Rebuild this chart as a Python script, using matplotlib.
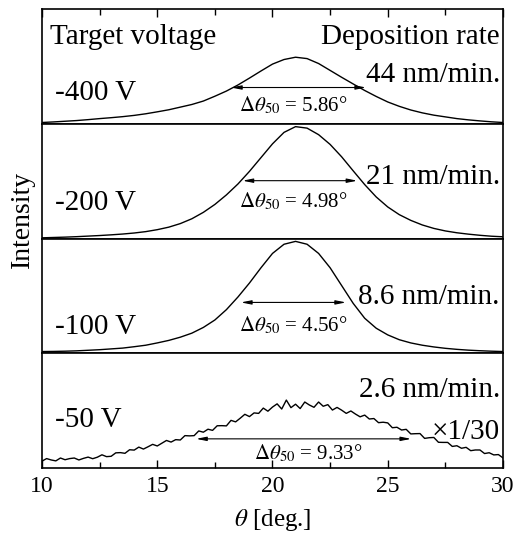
import numpy as np
import matplotlib.pyplot as plt
from matplotlib.ticker import MultipleLocator

plt.rcParams['font.family'] = 'Liberation Serif'
plt.rcParams['mathtext.fontset'] = 'stix'

# rocking curves, normalised so each panel runs 0..1
theta = np.arange(10, 30.01, 0.5)
theta_fine = np.linspace(10, 30, 101)

i_400 = [0.011, 0.016, 0.022, 0.028, 0.036, 0.045, 0.053, 0.062, 0.073, 0.087,
         0.104, 0.122, 0.145, 0.168, 0.198, 0.240, 0.285, 0.338, 0.398, 0.460,
         0.520, 0.560, 0.580, 0.568, 0.525, 0.465, 0.405, 0.347, 0.290, 0.238,
         0.190, 0.152, 0.120, 0.095, 0.075, 0.060, 0.045, 0.034, 0.025, 0.017,
         0.011]

i_200 = [0.006, 0.009, 0.012, 0.016, 0.021, 0.026, 0.032, 0.039, 0.048, 0.060,
         0.077, 0.099, 0.130, 0.172, 0.228, 0.297, 0.380, 0.475, 0.585, 0.705,
         0.825, 0.925, 0.975, 0.962, 0.905, 0.820, 0.712, 0.590, 0.470, 0.362,
         0.275, 0.208, 0.158, 0.118, 0.088, 0.066, 0.050, 0.038, 0.028, 0.020,
         0.015]

i_100 = [0.015, 0.016, 0.018, 0.021, 0.026, 0.031, 0.038, 0.045, 0.057, 0.070,
         0.090, 0.112, 0.140, 0.175, 0.225, 0.290, 0.380, 0.490, 0.612, 0.745,
         0.870, 0.950, 0.975, 0.950, 0.870, 0.745, 0.590, 0.435, 0.305, 0.218,
         0.160, 0.118, 0.090, 0.070, 0.055, 0.043, 0.034, 0.027, 0.022, 0.018,
         0.015]

# -50 V is noisy and shown at x1/30
i_50 = [0.060, 0.082, 0.070, 0.062, 0.087, 0.072, 0.082, 0.087, 0.070, 0.084,
        0.095, 0.081, 0.094, 0.115, 0.099, 0.102, 0.132, 0.134, 0.128, 0.159,
        0.156, 0.182, 0.165, 0.185, 0.206, 0.192, 0.216, 0.240, 0.226, 0.247,
        0.244, 0.282, 0.280, 0.282, 0.323, 0.312, 0.338, 0.328, 0.368, 0.369,
        0.367, 0.415, 0.402, 0.434, 0.468, 0.448, 0.480, 0.476, 0.522, 0.495,
        0.531, 0.559, 0.514, 0.592, 0.526, 0.556, 0.518, 0.575, 0.549, 0.529,
        0.575, 0.538, 0.552, 0.505, 0.528, 0.504, 0.476, 0.497, 0.470, 0.446,
        0.461, 0.427, 0.431, 0.395, 0.399, 0.393, 0.351, 0.355, 0.331, 0.337,
        0.297, 0.299, 0.300, 0.258, 0.264, 0.266, 0.224, 0.223, 0.223, 0.188,
        0.194, 0.172, 0.180, 0.151, 0.157, 0.157, 0.126, 0.133, 0.114, 0.117,
        0.088]

voltages = ['-400 V', '-200 V', '-100 V', '-50 V']
rates = ['44 nm/min.', '21 nm/min.', '8.6 nm/min.', '2.6 nm/min.']
fwhm = [5.86, 4.98, 4.56, 9.33]

curves = [(theta, i_400), (theta, i_200), (theta, i_100), (theta_fine, i_50)]

# layout per panel: arrow centre/height, label heights (axes fraction)
arrow_x = [21.13, 21.19, 20.91, 21.35]
arrow_y = [0.316, 0.504, 0.443, 0.254]
fw_text = [(20.91, 0.163), (20.91, 0.327), (20.91, 0.246), (21.56, 0.131)]
volt_y = [0.268, 0.309, 0.231, 0.418]
rate_y = [0.425, 0.536, 0.492, 0.680]

fig, axes = plt.subplots(4, 1, figsize=(5.16, 5.34), dpi=100, sharex=True,
                         gridspec_kw={'hspace': 0})
fig.subplots_adjust(left=0.0814, right=0.9748, bottom=0.1236, top=0.9831)

fs = 21
for k, ax in enumerate(axes):
    x, y = curves[k]
    ax.plot(x, y, color='black', lw=1.0)
    ax.set_xlim(10, 30)
    ax.set_ylim(0, 1)
    ax.set_yticks([])
    for sp in ax.spines.values():
        sp.set_linewidth(1.2)
    ax.tick_params(axis='x', which='both', bottom=False, top=False,
                   labelbottom=False, direction='in')

    half = fwhm[k] / 2
    ax.annotate('', xy=(arrow_x[k] - half, arrow_y[k]),
                xytext=(arrow_x[k] + half, arrow_y[k]),
                arrowprops=dict(arrowstyle='<|-|>,head_length=0.6,head_width=0.12',
                                lw=0.8, color='black', shrinkA=0, shrinkB=0,
                                mutation_scale=10))
    ax.text(fw_text[k][0], fw_text[k][1],
            r'$\Delta\theta_{50}$' + ' = %.2f°' % fwhm[k],
            ha='center', va='center', fontsize=15)
    ax.text(0.028, volt_y[k], voltages[k], transform=ax.transAxes,
            ha='left', va='center', fontsize=fs)
    ax.text(0.993, rate_y[k], rates[k], transform=ax.transAxes,
            ha='right', va='center', fontsize=fs)

axes[0].text(0.017, 0.756, 'Target voltage', transform=axes[0].transAxes,
             ha='left', va='center', fontsize=fs)
axes[0].text(0.993, 0.756, 'Deposition rate', transform=axes[0].transAxes,
             ha='right', va='center', fontsize=fs)
axes[3].text(0.993, 0.314, '×1/30', transform=axes[3].transAxes,
             ha='right', va='center', fontsize=fs)

axes[0].tick_params(axis='x', which='both', top=True)
axes[3].tick_params(axis='x', which='both', bottom=True, labelbottom=True,
                    labelsize=17, pad=6)
for ax in (axes[0], axes[3]):
    ax.xaxis.set_major_locator(MultipleLocator(5))
    ax.xaxis.set_minor_locator(MultipleLocator(2.5))
    ax.tick_params(axis='x', which='major', length=6, width=1.0)
    ax.tick_params(axis='x', which='minor', length=4, width=1.0)

axes[3].set_xlabel(r'$\theta$ [deg.]', fontsize=18, labelpad=7)
fig.text(22 / 516, 1 - 219 / 534, 'Intensity', rotation=90,
         ha='center', va='center', fontsize=20)

fig.savefig('out.png', dpi=100)
